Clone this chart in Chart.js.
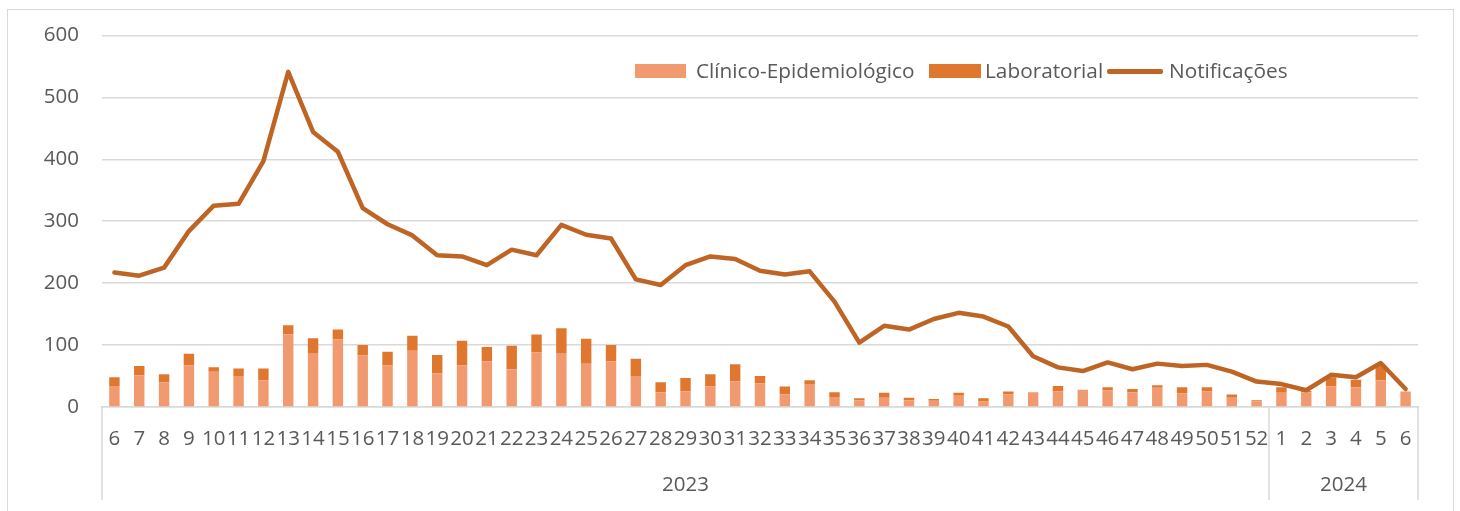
<!DOCTYPE html>
<html>
<head>
<meta charset="utf-8">
<script src="https://cdn.jsdelivr.net/npm/chart.js@4"></script>
<style>
  html, body { margin: 0; padding: 0; background: #ffffff; }
  #wrap { position: relative; width: 1460px; height: 511px; overflow: hidden; background: #fff; }
  #frame { position: absolute; left: 7px; top: 9px; width: 1447px; height: 520px; border: 1.5px solid #d9d9d9; box-sizing: border-box; }
  canvas { position: absolute; left: 0; top: 0; }
  .lg { position: absolute; font-family: "Open Sans", sans-serif; font-size: 20.8px; color: #595959; line-height: 22px; white-space: nowrap; }
  .sw { position: absolute; }
</style>
</head>
<body>
<div id="wrap">
  <div id="frame"></div>
  <canvas id="c" width="1460" height="511"></canvas>
  <div class="sw" style="left:635px; top:64px; width:51px; height:14px; background:#F1996F;"></div>
  <div class="lg" style="left:696px; top:59px;">Clínico-Epidemiológico</div>
  <div class="sw" style="left:929px; top:64px; width:52px; height:14px; background:#DF772F;"></div>
  <div class="lg" style="left:985px; top:59px;">Laboratorial</div>
  <div class="sw" style="left:1107px; top:69px; width:56px; height:5px; background:#BE6424; border-radius:2px;"></div>
  <div class="lg" style="left:1169px; top:59px;">Notificações</div>
</div>
<script>
const weeks = ['6','7','8','9','10','11','12','13','14','15','16','17','18','19','20','21','22','23','24','25','26','27','28','29','30','31','32','33','34','35','36','37','38','39','40','41','42','43','44','45','46','47','48','49','50','51','52','1','2','3','4','5','6'];
const years = ['2023', '2024'];
const yearCounts = [47, 6];

const clinico = [34,51,40,67,57,50,43,117,87,109,83,67,91,54,67,74,61,88,87,70,74,50,24,25,33,41,38,20,37,16,11,15,11,10,18,9,20,24,25,28,27,24,31,22,25,15,9,23,24,33,32,43,25];
const laboratorial = [14,15,13,19,7,12,19,15,24,16,17,22,24,30,40,23,38,29,40,40,26,28,16,22,20,28,12,13,6,8,3,8,4,3,5,5,5,0,9,0,5,5,4,10,7,5,2,9,2,15,12,24,0];
const notificacoes = [217,212,225,284,325,328,397,541,444,412,321,295,277,245,243,229,254,245,294,278,272,206,197,229,243,239,220,214,219,170,104,131,125,142,152,146,130,82,64,58,72,61,70,66,68,57,41,37,27,52,48,71,29];

const yTicks = [0, 100, 200, 300, 400, 500, 600];

const FONT = '"Open Sans", sans-serif';
const TXT = '#595959';
const GRID = '#d9d9d9';

const yearGroups = {
  id: 'yearGroups',
  afterDraw(chart) {
    const ctx = chart.ctx;
    const xs = chart.scales.x;
    const ca = chart.chartArea;
    const bottom = 500;
    const bounds = [xs.left];
    let idx = 0;
    yearCounts.forEach(n => {
      idx += n;
      if (idx < weeks.length) {
        bounds.push((xs.getPixelForValue(idx - 1) + xs.getPixelForValue(idx)) / 2);
      }
    });
    bounds.push(xs.right);
    ctx.save();
    ctx.strokeStyle = GRID;
    ctx.lineWidth = 1.5;
    bounds.forEach(b => {
      ctx.beginPath();
      ctx.moveTo(b, ca.bottom);
      ctx.lineTo(b, bottom);
      ctx.stroke();
    });
    ctx.fillStyle = TXT;
    ctx.font = '20.5px ' + FONT;
    ctx.textAlign = 'center';
    ctx.textBaseline = 'middle';
    years.forEach((y, i) => {
      ctx.fillText(y, (bounds[i] + bounds[i + 1]) / 2, 485);
    });
    ctx.restore();
  }
};

new Chart(document.getElementById('c'), {
  type: 'bar',
  data: {
    labels: weeks,
    datasets: [
      {
        type: 'line',
        label: 'Notificações',
        data: notificacoes,
        borderColor: '#BE6424',
        backgroundColor: '#BE6424',
        borderWidth: 4.5,
        pointRadius: 0,
        tension: 0,
        borderCapStyle: 'round',
        borderJoinStyle: 'round',
        stack: 'line',
        order: 0
      },
      {
        label: 'Clínico-Epidemiológico',
        data: clinico,
        backgroundColor: '#F1996F',
        stack: 'bars',
        order: 1,
        categoryPercentage: 0.42,
        barPercentage: 1.0
      },
      {
        label: 'Laboratorial',
        data: laboratorial,
        backgroundColor: '#DF772F',
        stack: 'bars',
        order: 1,
        categoryPercentage: 0.42,
        barPercentage: 1.0
      }
    ]
  },
  options: {
    responsive: false,
    animation: false,
    devicePixelRatio: 1,
    layout: { padding: { top: 35, right: 42, left: 0, bottom: 0 } },
    plugins: {
      legend: { display: false },
      tooltip: { enabled: false }
    },
    scales: {
      x: {
        stacked: true,
        offset: true,
        grid: { display: false },
        border: { display: true, color: GRID, width: 1.5 },
        ticks: {
          autoSkip: false, maxRotation: 0, minRotation: 0,
          padding: 12,
          color: TXT,
          font: { family: FONT, size: 20.5 }
        },
        afterFit(s) { s.height = 104; }
      },
      y: {
        stacked: true,
        min: 0,
        max: 600,
        afterBuildTicks(s) { s.ticks = yTicks.map(v => ({ value: v })); },
        grid: { color: GRID, lineWidth: 1.4, drawTicks: false },
        border: { display: false },
        ticks: {
          padding: 23,
          color: TXT,
          font: { family: FONT, size: 20.5 }
        },
        afterFit(s) { s.width = 102; }
      }
    }
  },
  plugins: [yearGroups]
});
</script>
</body>
</html>
